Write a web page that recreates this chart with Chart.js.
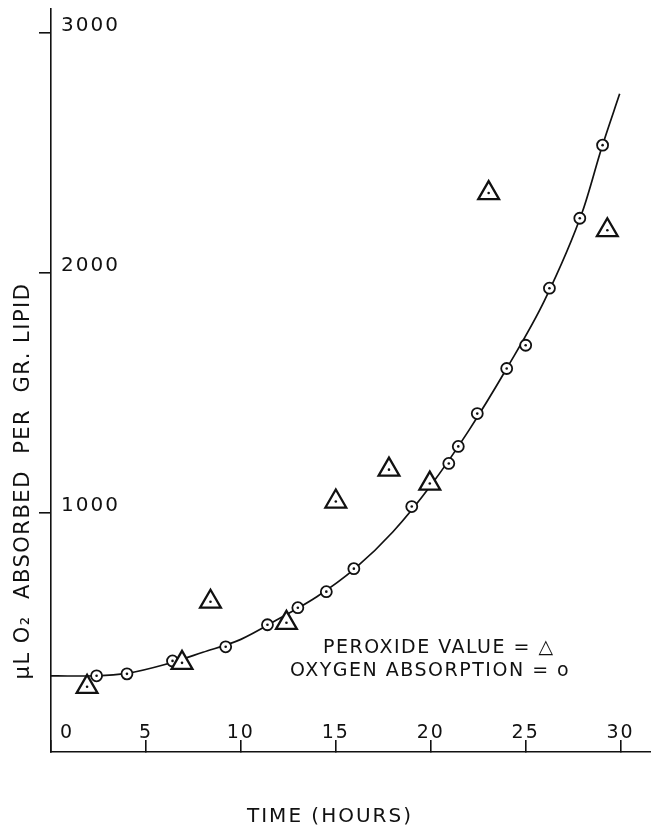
<!DOCTYPE html>
<html>
<head>
<meta charset="utf-8">
<script src="https://cdn.jsdelivr.net/npm/chart.js@4.4.0/dist/chart.umd.min.js"></script>
<style>
    html, body { margin: 0; padding: 0; background: #fff; overflow: hidden; }
    #wrap { position: relative; width: 651px; height: 830px; }
    canvas { display: block; }
</style>
</head>
<body>
<div id="wrap"><canvas id="chart"></canvas></div>
<script>
// Oxygen absorption (circles)
const oxygenHours = [2.4, 4.0, 6.4, 9.2, 11.4, 13.0, 14.5, 15.95, 19.0, 20.95, 21.45, 22.45, 24.0, 25.0, 26.25, 27.85, 29.05];
const oxygenValues = [318, 326, 380, 439, 531, 602, 669, 765, 1024, 1204, 1275, 1412, 1600, 1697, 1935, 2227, 2532];

// Peroxide value (triangles)
const peroxideHours = [1.9, 6.9, 8.4, 12.4, 15.0, 17.8, 19.95, 23.05, 29.3];
const peroxideValues = [272, 372, 627, 539, 1045, 1178, 1120, 2332, 2177];

// Fitted curve
const curveHours = [0, 1, 2.4, 4, 6, 8, 10, 12, 14, 16, 18, 20, 22, 24, 26, 28, 29, 29.95];
const curveValues = [318, 317, 318, 328, 365, 416, 470, 556, 648, 765, 918, 1112, 1341, 1600, 1885, 2257, 2520, 2746];

const xTicks = [0, 5, 10, 15, 20, 25, 30];
const yTicks = [1000, 2000, 3000];

const ink = '#111';
const fontFamily = '"DejaVu Sans", sans-serif';

const toPoints = (xs, ys) => xs.map((x, i) => ({ x: x, y: ys[i] }));

// labels sit inside the plot, so the axes need no extra room for them
const noPadding = () => ({ left: 0, top: 0, right: 0, bottom: 0 });

// lettering is spaced out a little, tick numbers included
const spacedText = {
    id: 'spacedText',
    beforeDraw(chart) {
        chart.ctx.letterSpacing = '2px';
    }
};

// small dot in the middle of every circle and triangle
const centerDots = {
    id: 'centerDots',
    afterDatasetsDraw(chart) {
        const ctx = chart.ctx;
        ctx.save();
        ctx.fillStyle = ink;
        [1, 2].forEach(idx => {
            chart.getDatasetMeta(idx).data.forEach(pt => {
                ctx.beginPath();
                ctx.arc(pt.x, pt.y, 1.3, 0, Math.PI * 2);
                ctx.fill();
            });
        });
        ctx.restore();
    }
};

// axis titles and the key
const labels = {
    id: 'labels',
    afterDraw(chart) {
        const ctx = chart.ctx;
        ctx.save();
        ctx.fillStyle = ink;
        ctx.textBaseline = 'middle';

        ctx.font = '19px ' + fontFamily;
        ctx.letterSpacing = '1.5px';
        ctx.textAlign = 'left';
        ctx.fillText('PEROXIDE VALUE = \u25B3', 323, 648);
        ctx.fillText('OXYGEN ABSORPTION = o', 290, 671);

        ctx.font = '20px ' + fontFamily;
        ctx.letterSpacing = '2px';
        ctx.textAlign = 'center';
        ctx.fillText('TIME (HOURS)', 330, 817);

        ctx.translate(24, 481);
        ctx.rotate(-Math.PI / 2);
        ctx.font = '21px ' + fontFamily;
        ctx.letterSpacing = '1.5px';
        ctx.fillText('\u00B5L O\u2082  ABSORBED  PER  GR. LIPID', 0, 0);
        ctx.restore();
    }
};

new Chart(document.getElementById('chart'), {
    type: 'scatter',
    data: {
        datasets: [
            {
                type: 'line',
                data: toPoints(curveHours, curveValues),
                borderColor: ink,
                borderWidth: 1.7,
                pointRadius: 0,
                fill: false,
                cubicInterpolationMode: 'monotone',
                order: 3
            },
            {
                data: toPoints(oxygenHours, oxygenValues),
                pointStyle: 'circle',
                pointRadius: 5.5,
                backgroundColor: '#fff',
                borderColor: ink,
                borderWidth: 1.8,
                order: 2
            },
            {
                data: toPoints(peroxideHours, peroxideValues),
                pointStyle: 'triangle',
                pointRadius: 12,
                backgroundColor: '#fff',
                borderColor: ink,
                borderWidth: 2.3,
                order: 1
            }
        ]
    },
    options: {
        responsive: true,
        maintainAspectRatio: false,
        animation: false,
        layout: { autoPadding: false, padding: { top: 9, left: 0, right: 0, bottom: 0 } },
        plugins: {
            legend: { display: false },
            tooltip: { enabled: false }
        },
        scales: {
            x: {
                type: 'linear',
                position: 'bottom',
                min: 0,
                max: 31.6,
                afterBuildTicks: scale => { scale.ticks = xTicks.map(v => ({ value: v })); },
                afterFit: scale => {
                    scale.height = 78;
                    scale.getPadding = noPadding;
                },
                border: { color: ink, width: 1.6 },
                grid: { drawOnChartArea: false, drawTicks: true, tickLength: -12, color: ink, lineWidth: 1.6 },
                ticks: {
                    mirror: true,
                    padding: 9,
                    color: ink,
                    font: { family: fontFamily, size: 19, lineHeight: 1 },
                    maxRotation: 0,
                    callback: v => v === 0 ? '    0' : String(v)
                }
            },
            y: {
                type: 'linear',
                position: 'left',
                min: 0,
                max: 3100,
                afterBuildTicks: scale => { scale.ticks = yTicks.map(v => ({ value: v })); },
                afterFit: scale => {
                    scale.width = 51;
                    scale.getPadding = noPadding;
                },
                border: { color: ink, width: 1.6 },
                grid: { drawOnChartArea: false, drawTicks: true, tickLength: 12, color: ink, lineWidth: 1.6 },
                ticks: {
                    mirror: true,
                    padding: 10,
                    labelOffset: -7,
                    color: ink,
                    font: { family: fontFamily, size: 20, lineHeight: 1 },
                    callback: v => String(v)
                }
            }
        }
    },
    plugins: [spacedText, centerDots, labels]
});
</script>
</body>
</html>
